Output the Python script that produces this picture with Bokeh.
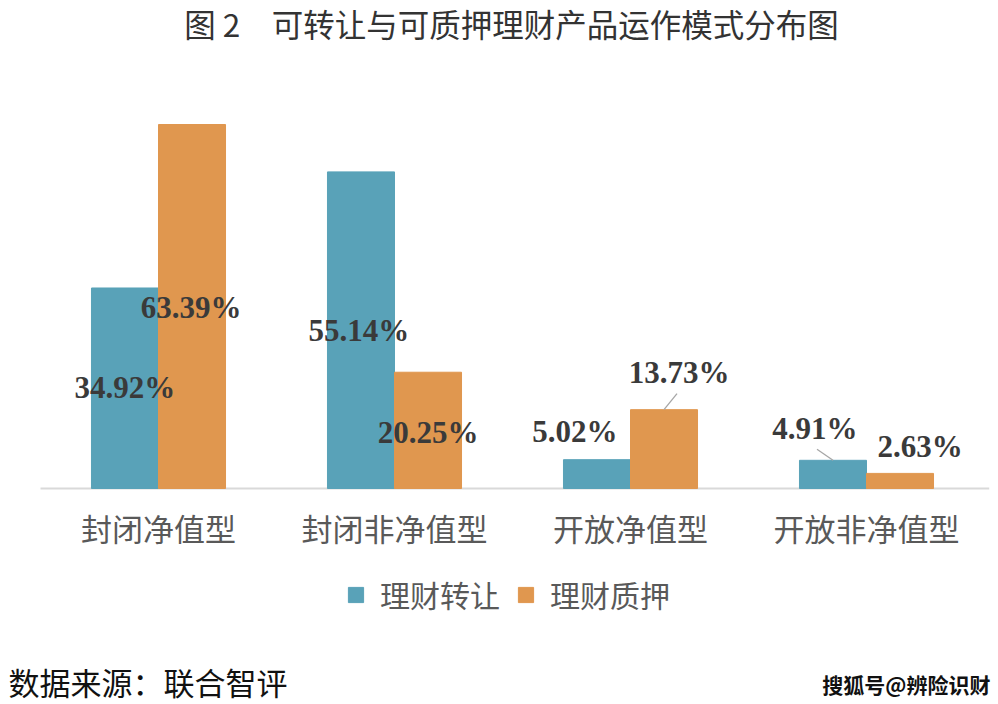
import numpy as np
from bokeh.plotting import figure
from bokeh.models import Range1d, ColumnDataSource, Legend, LegendItem
from bokeh.core.properties import value
from bokeh.embed import file_html
from bokeh.resources import INLINE

# ---- data ----
categories = ["封闭净值型", "封闭非净值型", "开放净值型", "开放非净值型"]
series_names = ["理财转让", "理财质押"]
transfer = [34.92, 55.14, 5.02, 4.91]
pledge = [63.39, 20.25, 13.73, 2.63]
title_text = "图 2　可转让与可质押理财产品运作模式分布图"
source_text = "数据来源：联合智评"
watermark_text = "搜狐号@辨险识财"

# ---- styles / layout ----
W, H = 998, 704
BASE_PX = 488.0          # baseline pixel row
PPU_Y = 5.742            # pixels per percentage point
X0_PX = 40.0             # left edge of first category
CAT_PX = 236.0           # category width in pixels
BAR_W = 0.284
BLUE = "#59A2B8"
ORANGE = "#E0974F"
VAL_COLOR = "#3a3a3a"
CJK = "Noto Sans CJK SC"

def ypx(py):
    return (BASE_PX - py) / PPU_Y

def xpx(px):
    return (px - X0_PX) / CAT_PX

# label offsets (pixels) relative to bar top-centre
blue_dx = [0, -2, -22, -18]
blue_dy = [100, 159, -28, -32]
orange_dx = [-1, 0, 15, 20]
orange_dy = [183, 60, -37, -27]

p = figure(width=W, height=H, output_backend="svg", toolbar_location=None,
           x_range=Range1d(xpx(0), xpx(W)), y_range=Range1d(ypx(H), ypx(0)),
           x_axis_location=None, y_axis_location=None,
           min_border=0, outline_line_color=None, background_fill_color="white",
           border_fill_color="white")
p.grid.visible = False

xs = np.arange(len(categories)) + 0.5
xb = xs - BAR_W / 2
xo = xs + BAR_W / 2

src_b = ColumnDataSource(dict(x=xb, top=transfer,
                              lab=[f"{v:.2f}%" for v in transfer],
                              dx=blue_dx, dy=blue_dy))
src_o = ColumnDataSource(dict(x=xo, top=pledge,
                              lab=[f"{v:.2f}%" for v in pledge],
                              dx=orange_dx, dy=orange_dy))

# baseline axis line
p.segment(x0=[0], y0=[0], x1=[len(categories) + 0.02], y1=[0],
          line_color="#d9d9d9", line_width=2)

rb = p.vbar(x="x", top="top", bottom=0, width=BAR_W, source=src_b,
            fill_color=BLUE, line_color=BLUE)
ro = p.vbar(x="x", top="top", bottom=0, width=BAR_W, source=src_o,
            fill_color=ORANGE, line_color=ORANGE)

# leader lines (pixel offsets from bar top-centre)
lead = [  # (series x, series values, index, label-end dx, dy)
    (xo, pledge, 2, 13, -16),
    (xb, transfer, 3, -16, -11),
]
lx0, ly0, lx1, ly1 = [], [], [], []
for arr_x, arr_v, i, dx, dy in lead:
    lx1.append(arr_x[i])
    ly1.append(arr_v[i])
    lx0.append(arr_x[i] + dx / CAT_PX)
    ly0.append(arr_v[i] - dy / PPU_Y)
p.segment(x0=lx0, y0=ly0, x1=lx1, y1=ly1, line_color="#a6a6a6", line_width=1.3)

for s in (src_b, src_o):
    p.text(x="x", y="top", text="lab", source=s, x_offset="dx", y_offset="dy",
           text_font=value("Liberation Serif"), text_font_style="bold",
           text_font_size="31px", text_color=VAL_COLOR,
           text_align="center", text_baseline="middle")

# category labels
p.text(x=xs, y=[ypx(527)] * len(categories), text=categories,
       text_font=value(CJK), text_font_size="31px", text_color="#595959",
       text_align="center", text_baseline="middle")

# title
p.text(x=[xpx(511)], y=[ypx(22)], text=[title_text],
       text_font=value(CJK), text_font_size="31.5px", text_color="#333333",
       text_align="center", text_baseline="middle")

# source
p.text(x=[xpx(8)], y=[ypx(681)], text=[source_text],
       text_font=value(CJK), text_font_size="31px", text_color="#111111",
       text_align="left", text_baseline="middle")

# watermark
p.text(x=[xpx(990)], y=[ypx(683)], text=[watermark_text],
       text_font=value(CJK), text_font_size="21px", text_font_style="bold",
       text_color="#111111", text_align="right", text_baseline="middle")

legend = Legend(items=[LegendItem(label=series_names[0], renderers=[rb]),
                       LegendItem(label=series_names[1], renderers=[ro])],
                orientation="horizontal", location=(346, 88),
                label_text_font=CJK, label_text_font_size="30px",
                label_text_color="#595959", glyph_width=19, glyph_height=19,
                label_standoff=15, spacing=16, padding=0, margin=0,
                border_line_color=None, background_fill_alpha=0,
                label_height=30)
p.add_layout(legend, "center")

open("out.html", "w").write(file_html(p, INLINE))
